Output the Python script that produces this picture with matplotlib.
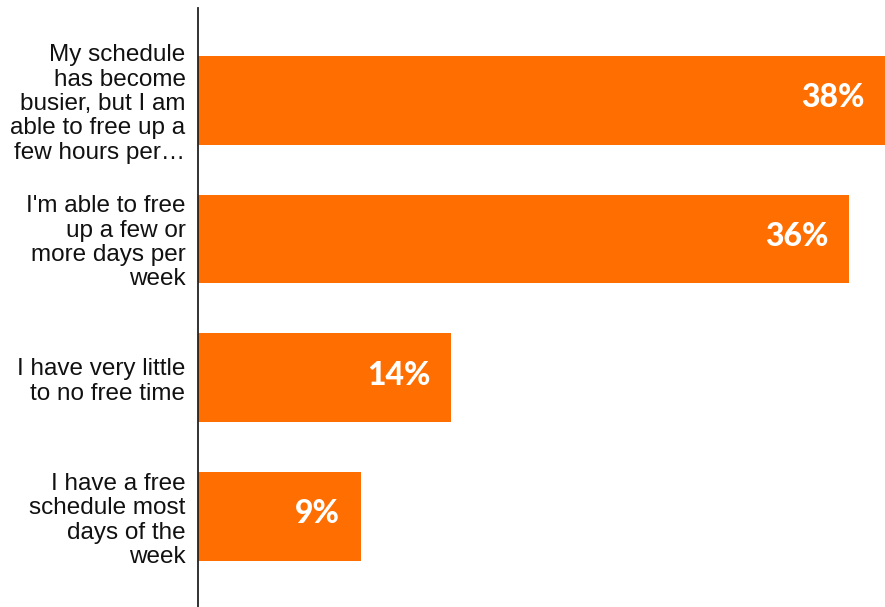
import matplotlib.pyplot as plt

labels = [
    "My schedule\nhas become\nbusier, but I am\nable to free up a\nfew hours per\u2026",
    "I'm able to free\nup a few or\nmore days per\nweek",
    "I have very little\nto no free time",
    "I have a free\nschedule most\ndays of the\nweek",
]
values = [38, 36, 14, 9]
bar_color = "#FF6E00"

fig = plt.figure(figsize=(8.85, 6.07), dpi=100)
ax = fig.add_axes([198 / 885, 0, 1 - 198 / 885, 1 - 8 / 607])

pos = list(range(len(values)))
ax.barh(pos, values, height=0.64, color=bar_color)

ax.set_xlim(0, 38)
ax.set_ylim(3.651, -0.665)

for p, v in zip(pos, values):
    ax.annotate(f"{v}%", xy=(v, p), xytext=(-15, 2), textcoords="offset points",
                ha="right", va="center", color="white", fontsize=23,
                family="Lato", fontweight="black")

ax.set_yticks(pos)
ax.set_yticklabels(labels, fontsize=17.5, family="Liberation Sans",
                   linespacing=1.14, color="#111111")
ax.tick_params(axis="y", length=0, pad=9)
ax.set_xticks([])

for s in ["top", "right", "bottom"]:
    ax.spines[s].set_visible(False)
ax.spines["left"].set_color("#222222")
ax.spines["left"].set_linewidth(1.3)

fig.savefig("out.png", dpi=100)
